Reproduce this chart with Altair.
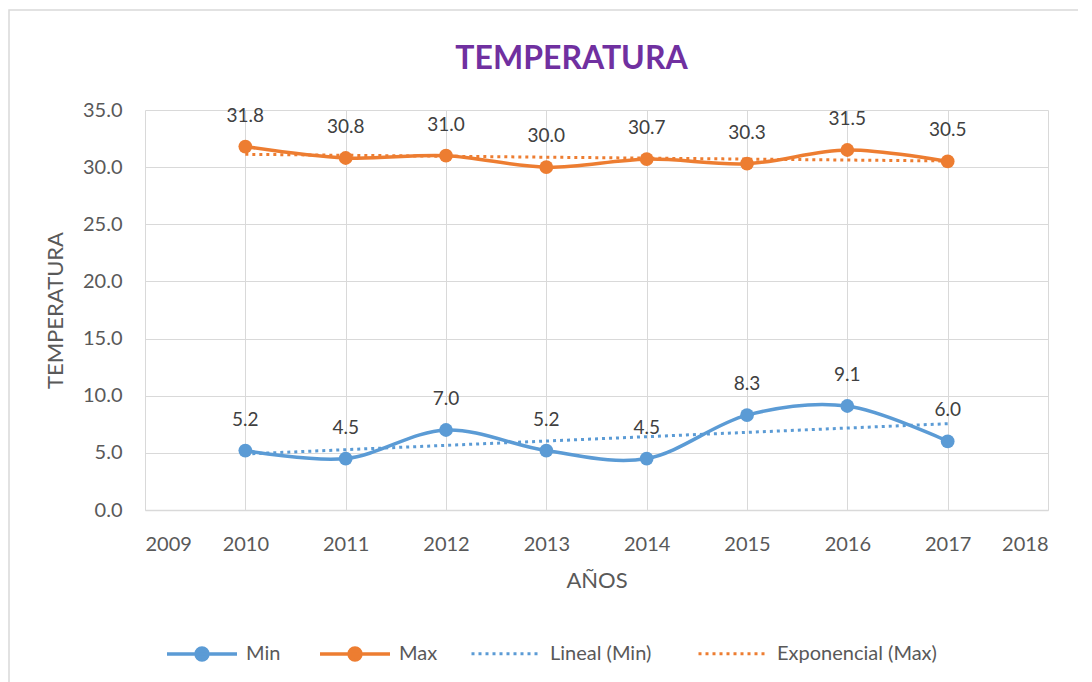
import altair as alt
import pandas as pd

years = [2010, 2011, 2012, 2013, 2014, 2015, 2016, 2017]
min_vals = [5.2, 4.5, 7.0, 5.2, 4.5, 8.3, 9.1, 6.0]
max_vals = [31.8, 30.8, 31.0, 30.0, 30.7, 30.3, 31.5, 30.5]
series_names = ["Min", "Max"]
trend_names = ["Lineal (Min)", "Exponencial (Max)"]
y_ticks = [0, 5, 10, 15, 20, 25, 30, 35]
x_ticks = [2009, 2010, 2011, 2012, 2013, 2014, 2015, 2016, 2017, 2018]
title_text = "TEMPERATURA"

BLUE = "#5B9BD5"
ORANGE = "#ED7D31"
FONT = "Lato"

df = pd.DataFrame({
    "year": years * 2,
    "value": min_vals + max_vals,
    "series": ["Min"] * len(years) + ["Max"] * len(years),
})

W, H = 903, 400

base = alt.Chart(df)
x = alt.X("year:Q", scale=alt.Scale(domain=[2009, 2018], nice=False),
          axis=alt.Axis(values=x_ticks, format="d", title="AÑOS", grid=True,
                        titleY=77, titleBaseline="alphabetic"))
y = alt.Y("value:Q", scale=alt.Scale(domain=[0, 35], nice=False),
          axis=alt.Axis(values=y_ticks, format=".1f", title="TEMPERATURA",
                        titleX=-90, titleBaseline="middle", domain=False))

color = alt.Color("series:N", scale=alt.Scale(domain=series_names, range=[BLUE, ORANGE]),
                  legend=alt.Legend(orient="none", legendX=20, legendY=507, direction="horizontal",
                                    title=None, symbolType="M-1,0H1M-0.17,0A0.17,0.17,0,1,1,0.17,0A0.17,0.17,0,1,1,-0.17,0Z",
                                    symbolSize=4900, symbolStrokeWidth=3.5, columnPadding=32,
                                    labelOffset=7))

lines = base.mark_line(interpolate="cardinal", strokeWidth=3.5).encode(x=x, y=y, color=color)
points = base.mark_point(filled=True, size=190, opacity=1).encode(x="year:Q", y="value:Q", color=color)
labels = base.mark_text(dy=-31, fontSize=19, color="#404040", font=FONT).encode(
    x="year:Q", y="value:Q", text=alt.Text("value:Q", format=".1f"))

stroke = alt.Stroke("trend:N", scale=alt.Scale(domain=trend_names, range=[BLUE, ORANGE]),
                    legend=alt.Legend(orient="none", legendX=325, legendY=507, direction="horizontal",
                                      title=None, symbolType="stroke", symbolSize=4900,
                                      symbolStrokeWidth=3, symbolDash=[3, 4], columnPadding=40,
                                      labelOffset=7))

trend_min = base.transform_filter(alt.datum.series == "Min").transform_regression(
    "year", "value", method="linear", extent=[2010, 2017]
).transform_calculate(trend="'Lineal (Min)'").mark_line(strokeWidth=3, strokeDash=[3, 4]).encode(
    x="year:Q", y="value:Q", stroke=stroke)

trend_max = base.transform_filter(alt.datum.series == "Max").transform_regression(
    "year", "value", method="exp", extent=[2010, 2017]
).transform_calculate(trend="'Exponencial (Max)'").mark_line(strokeWidth=3, strokeDash=[3, 4]).encode(
    x="year:Q", y="value:Q", stroke=stroke)

one = pd.DataFrame({"t": [title_text]})
border = alt.Chart(one).mark_rect(fill=None, stroke="#d9d9d9", strokeWidth=1.5).encode(
    x=alt.value(-136), x2=alt.value(W + 60), y=alt.value(-100), y2=alt.value(H + 240))

title = alt.Chart(one).mark_text(font=FONT, fontSize=32, fontWeight="bold", color="#7030A0",
                                 baseline="alphabetic", align="center").encode(
    text="t:N", x=alt.value(W / 2 - 25), y=alt.value(-41))

chart = alt.layer(border, lines, trend_min, trend_max, points, labels, title).properties(
    width=W, height=H,
    autosize=alt.AutoSizeParams(type="none"),
    padding={"left": 137, "top": 102, "right": 30, "bottom": 172},
).configure_view(stroke=None).configure_axis(
    labelFont=FONT, labelFontSize=20, labelColor="#595959", titleFont=FONT, titleFontSize=22,
    titleColor="#595959", titleFontWeight="normal", gridColor="#d9d9d9", gridWidth=1,
    domainColor="#d9d9d9", domainWidth=1.5, ticks=False, tickSize=0,
).configure_axisX(labelPadding=40, labelBaseline="alphabetic").configure_axisY(
    labelPadding=23, labelBaseline="middle"
).configure_legend(labelFont=FONT, labelFontSize=20, labelColor="#595959")

chart.save("out.html", embed_options={"renderer": "svg", "actions": False})
